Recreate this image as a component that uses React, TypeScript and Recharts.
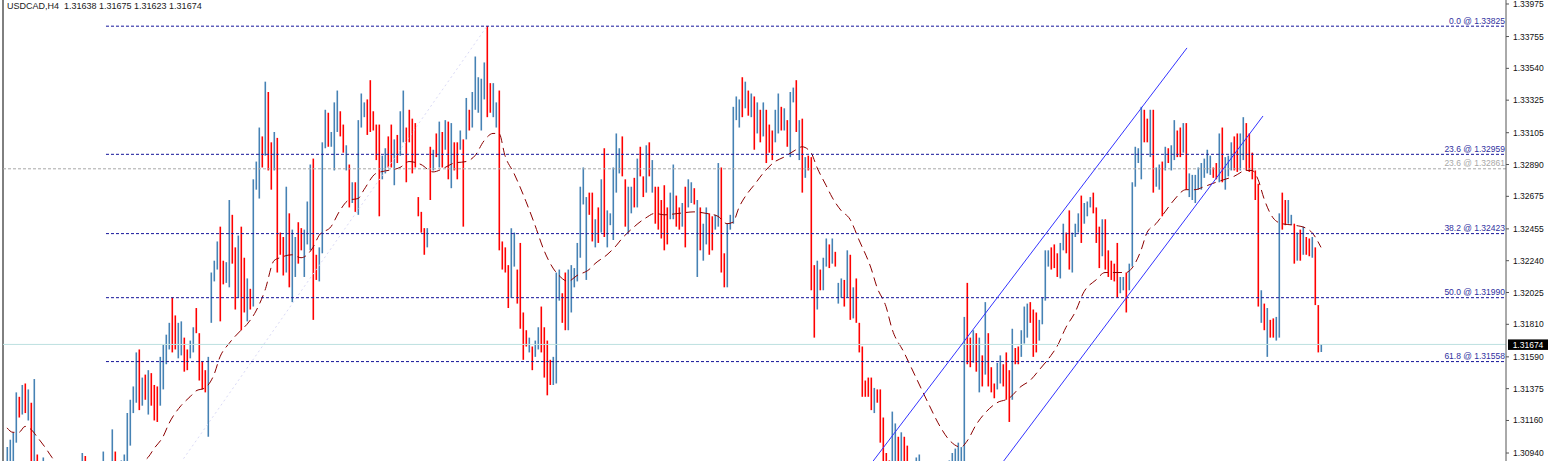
import React from 'react';
import { ComposedChart, Bar, Line, XAxis, YAxis, ReferenceLine, Cell } from 'recharts';

const chartTitle = 'USDCAD,H4  1.31638 1.31675 1.31623 1.31674';

// H4 bars, oldest -> newest (bar index = position in array)
const highs = [
  1.3098, 1.3103, 1.3108, 1.3135, 1.3132, 1.3140, 1.3141, 1.3137, 1.3128, 1.3144,
  1.3093, 1.3088, 1.3091, 1.3086, 1.3083, 1.3081, 1.3084, 1.3079, 1.3083, 1.3085,
  1.3081, 1.3084, 1.3087, 1.3083, 1.3088, 1.3094, 1.3092, 1.3083, 1.3077, 1.3076,
  1.3083, 1.3088, 1.3095, 1.3083, 1.3086, 1.3110, 1.3095, 1.3088, 1.3089, 1.3093,
  1.3121, 1.3130, 1.3139, 1.3162, 1.3164, 1.3145, 1.3147, 1.3150, 1.3148, 1.3140,
  1.3139, 1.3159, 1.3167, 1.3174, 1.3182, 1.3199, 1.3187, 1.3182, 1.3183, 1.3172,
  1.3164, 1.3170, 1.3179, 1.3192, 1.3175, 1.3156, 1.3150, 1.3159, 1.3216, 1.3224,
  1.3237, 1.3247, 1.3224, 1.3223, 1.3265, 1.3255, 1.3233, 1.3241, 1.3247, 1.3226,
  1.3212, 1.3205, 1.3279, 1.3291, 1.3314, 1.3308, 1.3345, 1.3338, 1.3304, 1.3311,
  1.3307, 1.3243, 1.3240, 1.3274, 1.3256, 1.3245, 1.3240, 1.3250, 1.3246, 1.3245,
  1.3264, 1.3289, 1.3293, 1.3228, 1.3233, 1.3304, 1.3326, 1.3324, 1.3311, 1.3331,
  1.3339, 1.3325, 1.3316, 1.3302, 1.3289, 1.3277, 1.3277, 1.3319, 1.3337, 1.3331,
  1.3333, 1.3346, 1.3325, 1.3316, 1.3316, 1.3295, 1.3300, 1.3308, 1.3316, 1.3306,
  1.3309, 1.3325, 1.3339, 1.3314, 1.3326, 1.3320, 1.3317, 1.3267, 1.3257, 1.3246,
  1.3246, 1.3301, 1.3299, 1.3310, 1.3318, 1.3311, 1.3319, 1.3318, 1.3317, 1.3304,
  1.3304, 1.3312, 1.3306, 1.3334, 1.3326, 1.3338, 1.3362, 1.3348, 1.3347, 1.3358,
  1.33825, 1.3344, 1.3344, 1.3331, 1.3339, 1.3237, 1.3233, 1.3221, 1.3246, 1.3243,
  1.3218, 1.3236, 1.3189, 1.3177, 1.3172, 1.3166, 1.3170, 1.3179, 1.3193, 1.3179,
  1.3170, 1.3157, 1.3159, 1.3216, 1.3218, 1.3202, 1.3216, 1.3218, 1.3221, 1.3219,
  1.3236, 1.3274, 1.3287, 1.3267, 1.3270, 1.3270, 1.3252, 1.3260, 1.3279, 1.3300,
  1.3258, 1.3256, 1.3287, 1.3310, 1.3300, 1.3308, 1.3279, 1.3274, 1.3274, 1.3280,
  1.3293, 1.3301, 1.3281, 1.3302, 1.3304, 1.3292, 1.3274, 1.3274, 1.3265, 1.3275,
  1.3260, 1.3270, 1.3289, 1.3268, 1.3260, 1.3263, 1.3274, 1.3279, 1.3277, 1.3273,
  1.3265, 1.3260, 1.3249, 1.3260, 1.3256, 1.3254, 1.3255, 1.3290, 1.3287, 1.3229,
  1.3249, 1.3255, 1.3328, 1.3335, 1.3333, 1.3348, 1.3345, 1.3339, 1.3337, 1.3335,
  1.3331, 1.3326, 1.3331, 1.3326, 1.3316, 1.3312, 1.3326, 1.3337, 1.3328, 1.3327,
  1.3319, 1.3338, 1.3341, 1.3346, 1.3319, 1.3320, 1.3294, 1.3295, 1.3294, 1.3221,
  1.3224, 1.3218, 1.3226, 1.3239, 1.3235, 1.3239, 1.3230, 1.3209, 1.3212, 1.3211,
  1.3231, 1.3228, 1.3206, 1.3212, 1.3182, 1.3166, 1.3143, 1.3145, 1.3145, 1.3138,
  1.3137, 1.3137, 1.3118, 1.3094, 1.3089, 1.3122, 1.3114, 1.3105, 1.3108, 1.3105,
  1.3099, 1.3088, 1.3086, 1.3091, 1.3093, 1.3087, 1.3084, 1.3081, 1.3083, 1.3079,
  1.3083, 1.3084, 1.3085, 1.3088, 1.3089, 1.3094, 1.3097, 1.3101, 1.3098, 1.3186,
  1.3209, 1.3172, 1.3177, 1.3175, 1.3172, 1.3160, 1.3196, 1.3175, 1.3152, 1.3141,
  1.3155, 1.3160, 1.3154, 1.3162, 1.3150, 1.3178, 1.3165, 1.3166, 1.3177, 1.3193,
  1.3195, 1.3196, 1.3191, 1.3189, 1.3184, 1.3199, 1.3231, 1.3231, 1.3233, 1.3235,
  1.3229, 1.3236, 1.3249, 1.3243, 1.3258, 1.3243, 1.3249, 1.3256, 1.3268, 1.3263,
  1.3264, 1.3267, 1.3270, 1.3260, 1.3247, 1.3252, 1.3252, 1.3231, 1.3224, 1.3222,
  1.3236, 1.3213, 1.3213, 1.3216, 1.3222, 1.3277, 1.3301, 1.3300, 1.3328, 1.3326,
  1.3320, 1.3326, 1.3326, 1.3287, 1.3289, 1.3291, 1.3301, 1.3300, 1.3302, 1.3319,
  1.3312, 1.3314, 1.3317, 1.3317, 1.3283, 1.3282, 1.3282, 1.3287, 1.3290, 1.3293,
  1.3299, 1.3295, 1.3287, 1.3290, 1.3310, 1.3314, 1.3294, 1.3295, 1.3304, 1.3308,
  1.3310, 1.3310, 1.3321, 1.3317, 1.3310, 1.3297, 1.3285, 1.3276, 1.3204, 1.3195,
  1.3192, 1.3184, 1.3185, 1.3186, 1.3256, 1.3270, 1.3265, 1.3265, 1.3255, 1.3249,
  1.3243, 1.3245, 1.3247, 1.3240, 1.3239, 1.3240, 1.3233, 1.3194, 1.31675,
];

const lows = [
  1.3083, 1.3083, 1.3086, 1.3101, 1.3118, 1.3120, 1.3121, 1.3116, 1.3083, 1.3083,
  1.3076, 1.3069, 1.3072, 1.3066, 1.3062, 1.3059, 1.3062, 1.3055, 1.3064, 1.3066,
  1.3059, 1.3062, 1.3068, 1.3062, 1.3069, 1.3069, 1.3066, 1.3059, 1.3052, 1.3049,
  1.3059, 1.3062, 1.3062, 1.3022, 1.3035, 1.3062, 1.3069, 1.3066, 1.3069, 1.3072,
  1.3086, 1.3099, 1.3121, 1.3128, 1.3123, 1.3126, 1.3130, 1.3120, 1.3126, 1.3116,
  1.3115, 1.3126, 1.3137, 1.3154, 1.3164, 1.3162, 1.3164, 1.3158, 1.3160, 1.3149,
  1.3150, 1.3158, 1.3162, 1.3175, 1.3143, 1.3137, 1.3135, 1.3105, 1.3182, 1.3210,
  1.3218, 1.3183, 1.3208, 1.3209, 1.3206, 1.3222, 1.3191, 1.3199, 1.3177, 1.3189,
  1.3183, 1.3191, 1.3193, 1.3272, 1.3266, 1.3287, 1.3295, 1.3285, 1.3272, 1.3285,
  1.3216, 1.3228, 1.3214, 1.3216, 1.3206, 1.3196, 1.3213, 1.3222, 1.3231, 1.3213,
  1.3235, 1.3231, 1.3184, 1.3211, 1.3210, 1.3229, 1.3300, 1.3301, 1.3301, 1.3285,
  1.3311, 1.3308, 1.3297, 1.3285, 1.3260, 1.3263, 1.3257, 1.3255, 1.3314, 1.3321,
  1.3309, 1.3311, 1.3312, 1.3292, 1.3254, 1.3279, 1.3283, 1.3287, 1.3287, 1.3275,
  1.3290, 1.3295, 1.3304, 1.3277, 1.3304, 1.3283, 1.3287, 1.3254, 1.3243, 1.3228,
  1.3233, 1.3265, 1.3285, 1.3294, 1.3287, 1.3287, 1.3299, 1.3279, 1.3273, 1.3285,
  1.3279, 1.3299, 1.3247, 1.3306, 1.3312, 1.3314, 1.3326, 1.3324, 1.3312, 1.3333,
  1.3321, 1.3324, 1.3321, 1.3314, 1.3231, 1.3218, 1.3216, 1.3192, 1.3199, 1.3220,
  1.3195, 1.3178, 1.3157, 1.3166, 1.3162, 1.3150, 1.3159, 1.3164, 1.3162, 1.3145,
  1.3133, 1.3140, 1.3140, 1.3141, 1.3197, 1.3182, 1.3177, 1.3177, 1.3189, 1.3206,
  1.3210, 1.3226, 1.3262, 1.3211, 1.3255, 1.3237, 1.3233, 1.3236, 1.3243, 1.3240,
  1.3233, 1.3248, 1.3238, 1.3270, 1.3283, 1.3281, 1.3247, 1.3243, 1.3256, 1.3260,
  1.3260, 1.3281, 1.3267, 1.3270, 1.3281, 1.3270, 1.3249, 1.3245, 1.3239, 1.3231,
  1.3235, 1.3252, 1.3252, 1.3247, 1.3245, 1.3247, 1.3233, 1.3260, 1.3263, 1.3262,
  1.3213, 1.3231, 1.3224, 1.3235, 1.3228, 1.3231, 1.3245, 1.3247, 1.3216, 1.3206,
  1.3206, 1.3245, 1.3249, 1.3319, 1.3314, 1.3321, 1.3327, 1.3322, 1.3321, 1.3299,
  1.3310, 1.3304, 1.3308, 1.3290, 1.3297, 1.3292, 1.3304, 1.3310, 1.3312, 1.3312,
  1.3301, 1.3294, 1.3331, 1.3311, 1.3292, 1.3270, 1.3280, 1.3285, 1.3204, 1.3172,
  1.3191, 1.3204, 1.3204, 1.3220, 1.3219, 1.3222, 1.3220, 1.3195, 1.3199, 1.3193,
  1.3199, 1.3184, 1.3185, 1.3182, 1.3162, 1.3132, 1.3132, 1.3132, 1.3123, 1.3121,
  1.3128, 1.3101, 1.3083, 1.3069, 1.3066, 1.3076, 1.3083, 1.3079, 1.3083, 1.3083,
  1.3079, 1.3069, 1.3066, 1.3069, 1.3072, 1.3066, 1.3062, 1.3059, 1.3062, 1.3055,
  1.3062, 1.3064, 1.3066, 1.3068, 1.3070, 1.3076, 1.3079, 1.3083, 1.3083, 1.3083,
  1.3154, 1.3152, 1.3155, 1.3149, 1.3135, 1.3139, 1.3147, 1.3139, 1.3135, 1.3131,
  1.3137, 1.3141, 1.3139, 1.3130, 1.3115, 1.3130, 1.3154, 1.3154, 1.3159, 1.3168,
  1.3172, 1.3182, 1.3159, 1.3162, 1.3170, 1.3181, 1.3197, 1.3220, 1.3218, 1.3219,
  1.3213, 1.3212, 1.3231, 1.3229, 1.3218, 1.3216, 1.3240, 1.3243, 1.3236, 1.3249,
  1.3254, 1.3260, 1.3256, 1.3236, 1.3219, 1.3227, 1.3218, 1.3213, 1.3211, 1.3210,
  1.3199, 1.3202, 1.3204, 1.3189, 1.3204, 1.3220, 1.3274, 1.3290, 1.3279, 1.3304,
  1.3304, 1.3294, 1.3270, 1.3274, 1.3272, 1.3254, 1.3285, 1.3290, 1.3285, 1.3292,
  1.3294, 1.3294, 1.3297, 1.3272, 1.3267, 1.3265, 1.3263, 1.3272, 1.3272, 1.3280,
  1.3283, 1.3282, 1.3280, 1.3279, 1.3277, 1.3277, 1.3272, 1.3281, 1.3285, 1.3285,
  1.3284, 1.3285, 1.3292, 1.3285, 1.3284, 1.3279, 1.3265, 1.3193, 1.3182, 1.3177,
  1.3159, 1.3172, 1.3172, 1.3170, 1.3172, 1.3245, 1.3248, 1.3249, 1.3248, 1.3222,
  1.3224, 1.3224, 1.3228, 1.3228, 1.3227, 1.3226, 1.3194, 1.3162, 1.31623,
];

// 1 = bull bar (close above open), 0 = bear bar
const barUp = [
  1, 1, 1, 1, 0, 1, 0, 1, 0, 1, 0, 0, 1, 0, 0, 1, 0, 0, 1, 1,
  0, 1, 1, 0, 1, 1, 0, 0, 0, 1, 1, 0, 1, 0, 1, 1, 0, 1, 1, 1,
  1, 1, 1, 1, 0, 1, 0, 1, 0, 0, 0, 1, 1, 1, 1, 0, 0, 1, 1, 0,
  0, 1, 1, 0, 0, 0, 0, 1, 1, 1, 1, 0, 0, 1, 1, 0, 0, 1, 0, 0,
  1, 0, 1, 1, 1, 0, 1, 0, 0, 1, 0, 0, 0, 1, 0, 1, 1, 0, 0, 1,
  1, 1, 0, 0, 1, 1, 1, 0, 1, 1, 1, 0, 0, 1, 0, 1, 0, 1, 1, 1,
  0, 0, 0, 0, 0, 1, 1, 0, 0, 1, 0, 1, 1, 0, 0, 0, 0, 0, 0, 0,
  1, 0, 1, 0, 1, 0, 1, 0, 1, 0, 0, 1, 0, 1, 0, 1, 1, 1, 1, 1,
  0, 0, 1, 1, 0, 0, 0, 0, 1, 1, 0, 0, 0, 0, 1, 0, 1, 1, 0, 0,
  0, 0, 1, 1, 1, 0, 0, 1, 1, 1, 1, 1, 1, 1, 0, 0, 1, 0, 1, 0,
  1, 1, 1, 1, 1, 0, 0, 1, 1, 0, 1, 0, 0, 1, 0, 1, 0, 0, 0, 0,
  0, 1, 1, 0, 0, 1, 0, 1, 1, 0, 1, 0, 1, 1, 0, 0, 1, 1, 0, 0,
  1, 1, 1, 1, 1, 0, 1, 0, 1, 0, 1, 0, 1, 0, 0, 0, 1, 1, 0, 1,
  0, 1, 1, 0, 1, 0, 1, 0, 0, 0, 1, 0, 1, 1, 0, 1, 0, 1, 1, 0,
  1, 0, 1, 0, 0, 0, 0, 0, 0, 1, 0, 0, 0, 0, 0, 1, 1, 0, 1, 0,
  0, 0, 1, 1, 1, 0, 0, 1, 0, 0, 1, 1, 0, 1, 1, 1, 1, 1, 1, 1,
  0, 0, 1, 0, 1, 0, 1, 0, 0, 0, 1, 1, 0, 0, 0, 1, 0, 0, 1, 1,
  1, 0, 0, 0, 1, 1, 1, 1, 0, 0, 0, 1, 1, 0, 0, 1, 1, 1, 0, 1,
  1, 1, 0, 0, 0, 1, 0, 0, 0, 0, 0, 1, 1, 0, 1, 1, 1, 1, 1, 0,
  0, 1, 0, 1, 1, 0, 1, 0, 1, 1, 0, 0, 1, 0, 1, 1, 1, 1, 1, 1,
  1, 1, 0, 0, 1, 0, 1, 1, 1, 0, 0, 1, 1, 0, 0, 0, 0, 0, 1, 0,
  1, 0, 0, 1, 1, 0, 0, 1, 1, 0, 1, 0, 1, 0, 0, 1, 0, 0, 1,
];

// moving average (dashed), sampled at bar indices
const maBars = [
  0, 2, 4, 6, 8, 10, 13, 15, 18, 23,
  28, 33, 38, 42, 45, 47, 49, 52, 54, 58,
  61, 63, 66, 69, 71, 74, 78, 80, 83, 86,
  89, 91, 95, 98, 102, 104, 108, 111, 114, 117,
  119, 123, 127, 131, 134, 138, 142, 146, 149, 153,
  156, 159, 162, 164, 166, 169, 173, 176, 179, 182,
  184, 187, 190, 194, 196, 200, 203, 205, 208, 213,
  216, 219, 224, 229, 233, 237, 240, 242, 244, 247,
  249, 252, 256, 259, 263, 265, 268, 270, 273, 275,
  278, 281, 284, 288, 290, 293, 295, 299, 303, 307,
  311, 314, 318, 320, 323, 326, 330, 334, 338, 341,
  344, 348, 350, 353, 356, 359, 363, 366, 369, 373,
  375, 378, 380, 383, 386, 389, 393, 396, 399, 403,
  406, 409, 413, 415, 417, 419, 422, 425, 429, 433,
  435, 438,
];
const maValues = [
  1.3111, 1.3108, 1.3108, 1.3112, 1.3110, 1.3105, 1.3097, 1.3091, 1.3084, 1.3076,
  1.3070, 1.3069, 1.3074, 1.3083, 1.3088, 1.3091, 1.3097, 1.3105, 1.3114, 1.3126,
  1.3132, 1.3136, 1.3138, 1.3147, 1.3159, 1.3168, 1.3177, 1.3181, 1.3190, 1.3204,
  1.3224, 1.3226, 1.3228, 1.3226, 1.3233, 1.3241, 1.3247, 1.3258, 1.3265, 1.3266,
  1.3272, 1.3283, 1.3285, 1.3287, 1.3291, 1.3289, 1.3284, 1.3287, 1.3290, 1.3291,
  1.3295, 1.3305, 1.3310, 1.3310, 1.3295, 1.3283, 1.3264, 1.3248, 1.3231, 1.3219,
  1.3214, 1.3210, 1.3214, 1.3218, 1.3222, 1.3228, 1.3234, 1.3239, 1.3245, 1.3253,
  1.3256, 1.3255, 1.3256, 1.3257, 1.3256, 1.3254, 1.3249, 1.3250, 1.3260, 1.3270,
  1.3275, 1.3283, 1.3291, 1.3294, 1.3299, 1.3301, 1.3297, 1.3287, 1.3275, 1.3267,
  1.3258, 1.3252, 1.3238, 1.3219, 1.3206, 1.3193, 1.3178, 1.3162, 1.3145, 1.3128,
  1.3112, 1.3103, 1.3098, 1.3102, 1.3113, 1.3121, 1.3128, 1.3131, 1.3139, 1.3143,
  1.3150, 1.3160, 1.3166, 1.3179, 1.3189, 1.3203, 1.3211, 1.3216, 1.3216, 1.3216,
  1.3219, 1.3231, 1.3243, 1.3249, 1.3257, 1.3265, 1.3272, 1.3272, 1.3274, 1.3277,
  1.3279, 1.3281, 1.3285, 1.3285, 1.3279, 1.3266, 1.3253, 1.3249, 1.3248, 1.3246,
  1.3243, 1.3233,
];

const yTicks = [
  1.3094, 1.3116, 1.31375, 1.3159, 1.3181, 1.32025, 1.3224, 1.32455,
  1.32675, 1.3289, 1.33105, 1.33325, 1.3354, 1.33755, 1.33975,
];

const fibLevels = [
  { name: '0.0', price: 1.33825 },
  { name: '23.6', price: 1.32959 },
  { name: '38.2', price: 1.32423 },
  { name: '50.0', price: 1.3199 },
  { name: '61.8', price: 1.31558 },
];
const fibAnchorBar = 33;
const fibTrend = [
  { bar: 33, price: 1.30155 },
  { bar: 160, price: 1.33825 },
];
const greyFib = { name: '23.6', price: 1.32861 };
const channelUpper = [
  { bar: 288.5, price: 1.3088 },
  { bar: 393.33, price: 1.33678 },
];
const channelLower = [
  { bar: 332, price: 1.3088 },
  { bar: 418.67, price: 1.33218 },
];
const lastPrice = 1.31674;

const X_DOMAIN: [number, number] = [-4 / 3, 499.6667];
const Y_DOMAIN: [number, number] = [1.308861, 1.34002];

const FONT = "Tahoma, 'Liberation Sans', Arial, sans-serif";
const BULL = '#4682b4';
const BEAR = '#ff0000';

const rows: any[] = highs.map((h, i) => ({
  bar: i,
  range: [lows[i], h],
  up: barUp[i] === 1,
}));
maBars.forEach((b, j) => {
  rows[b].ma = maValues[j];
});

const fibLabel = (text: string, color: string) => (props: any) => {
  const vb = props.viewBox || {};
  return (
    <text
      x={(vb.x || 0) + (vb.width || 0) - 1}
      y={(vb.y || 0) - 2.5}
      textAnchor="end"
      fontSize={8.5}
      fontFamily={FONT}
      fill={color}
    >
      {text}
    </text>
  );
};

const priceTag = (props: any) => {
  const vb = props.viewBox || {};
  const x = (vb.x || 0) + (vb.width || 0) + 2;
  const y = vb.y || 0;
  return (
    <g>
      <rect x={x} y={y - 5} width={40} height={10.5} fill="#000" />
      <text x={x + 20} y={y + 3.2} textAnchor="middle" fontSize={8.5} fontFamily={FONT} fill="#fff">
        {lastPrice.toFixed(5)}
      </text>
    </g>
  );
};

export default function App() {
  return (
    <div style={{ position: 'absolute', left: 0, top: 0, width: 1556, height: 461, background: '#fff', overflow: 'hidden' }}>
      <ComposedChart width={1556} height={461} data={rows} margin={{ top: 0, right: 0, bottom: 0, left: 3 }}>
        <XAxis type="number" dataKey="bar" domain={X_DOMAIN} allowDataOverflow hide />
        <YAxis
          orientation="right"
          type="number"
          domain={Y_DOMAIN}
          allowDataOverflow
          ticks={yTicks}
          interval={0}
          width={50}
          tickSize={3}
          tickMargin={4}
          axisLine={{ stroke: '#555' }}
          tickLine={{ stroke: '#555' }}
          tick={{ fontSize: 8.5, fill: '#111', fontFamily: FONT }}
          tickFormatter={(v: number) => v.toFixed(5)}
        />
        <ReferenceLine x={X_DOMAIN[0]} stroke="#000" ifOverflow="visible" />
        <ReferenceLine
          segment={[{ x: fibTrend[0].bar, y: fibTrend[0].price }, { x: fibTrend[1].bar, y: fibTrend[1].price }]}
          stroke="#dadaf6"
          strokeDasharray="2 3"
          ifOverflow="hidden"
        />
        <Bar dataKey="range" barSize={1.6} isAnimationActive={false}>
          {rows.map((r) => (
            <Cell key={r.bar} fill={r.up ? BULL : BEAR} />
          ))}
        </Bar>
        <Line
          dataKey="ma"
          type="monotone"
          stroke="#8b0000"
          strokeWidth={1}
          strokeDasharray="9 5"
          dot={false}
          activeDot={false}
          connectNulls
          isAnimationActive={false}
        />
        <ReferenceLine y={lastPrice} stroke="#bde0e0" label={priceTag} />
        <ReferenceLine
          y={greyFib.price}
          stroke="#a8a8a8"
          strokeDasharray="3 2"
          label={fibLabel(`${greyFib.name} @ ${greyFib.price.toFixed(5)}`, '#a8a8a8')}
        />
        {fibLevels.map((f) => (
          <ReferenceLine
            key={f.name}
            segment={[{ x: fibAnchorBar, y: f.price }, { x: X_DOMAIN[1], y: f.price }]}
            stroke="#14149a"
            strokeDasharray="3 2"
            ifOverflow="visible"
            label={fibLabel(`${f.name} @ ${f.price.toFixed(5)}`, '#2f2fa0')}
          />
        ))}
        <ReferenceLine
          segment={[{ x: channelUpper[0].bar, y: channelUpper[0].price }, { x: channelUpper[1].bar, y: channelUpper[1].price }]}
          stroke="#3333ff"
          ifOverflow="hidden"
        />
        <ReferenceLine
          segment={[{ x: channelLower[0].bar, y: channelLower[0].price }, { x: channelLower[1].bar, y: channelLower[1].price }]}
          stroke="#3333ff"
          ifOverflow="hidden"
        />
      </ComposedChart>
      <div
        style={{
          position: 'absolute',
          left: 7,
          top: 1,
          fontSize: 9,
          lineHeight: '11px',
          fontFamily: FONT,
          color: '#1a1a1a',
          whiteSpace: 'pre',
        }}
      >
        {chartTitle}
      </div>
    </div>
  );
}
